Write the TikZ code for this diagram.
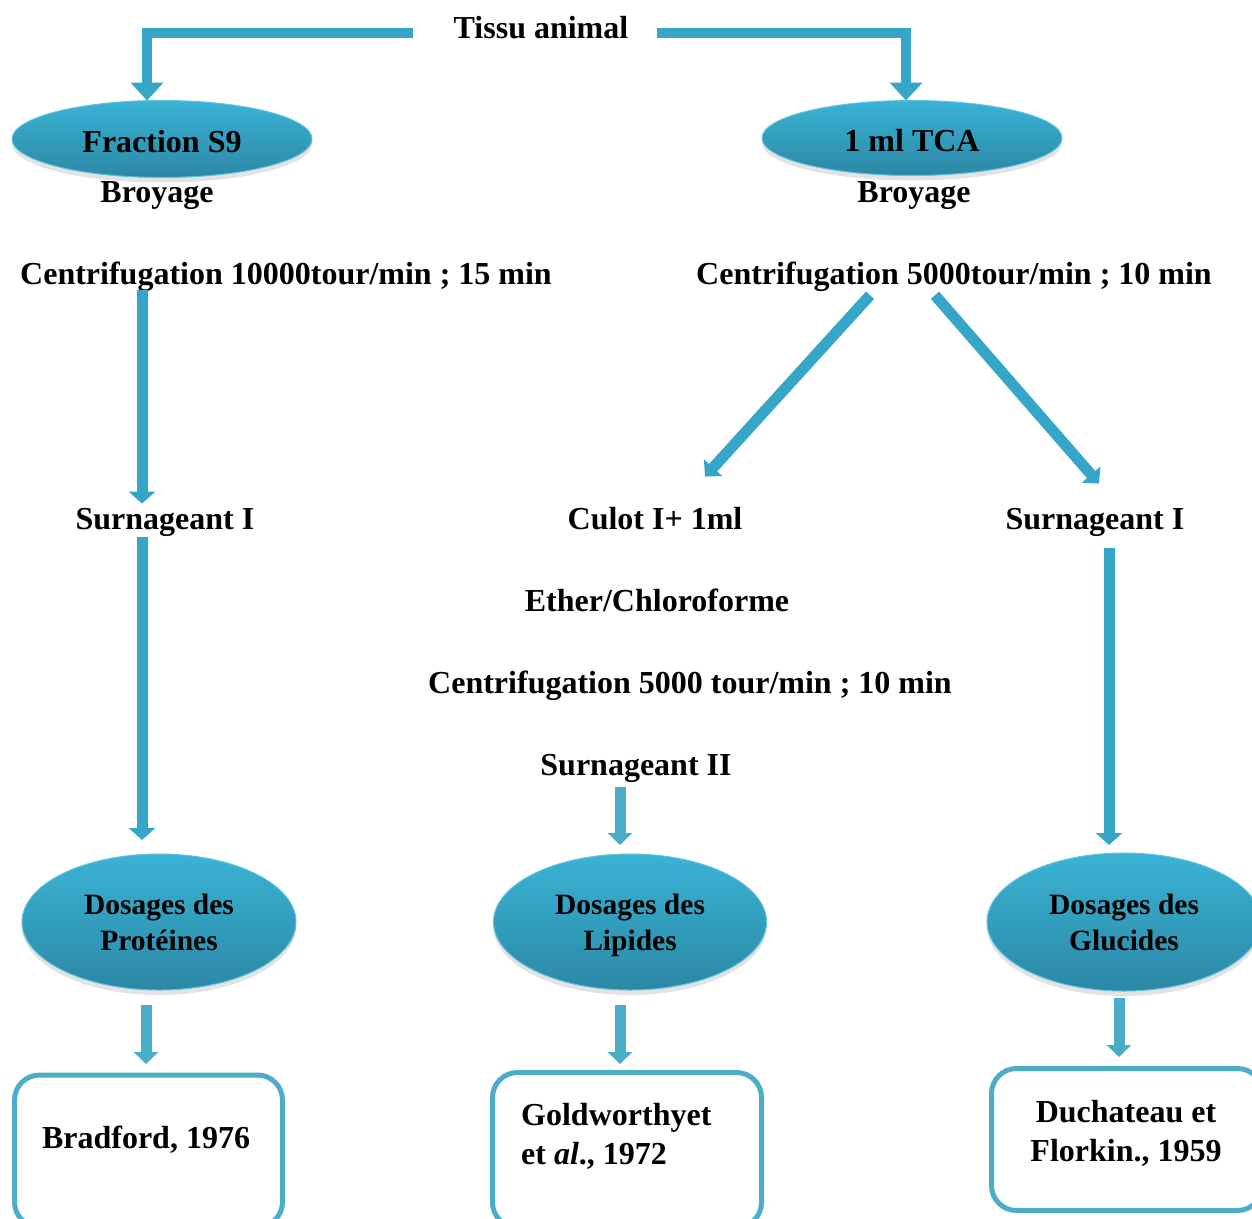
\documentclass[tikz,border=0pt]{standalone}
\usepackage{fontspec}
\setmainfont{Liberation Serif}
\usetikzlibrary{arrows.meta,shapes.geometric,shadows}
\definecolor{cTop}{HTML}{3AB3D5}
\definecolor{cBot}{HTML}{2B88A5}
\definecolor{cArr}{HTML}{35A6C8}
\definecolor{cArrS}{HTML}{4AADC8}
\definecolor{cBox}{HTML}{4BADC8}
\begin{document}
\begin{tikzpicture}[x=1pt,y=-1pt,
  lbl/.style={font=\fontsize{32}{36}\selectfont\bfseries, inner sep=0pt, anchor=base},
  ell/.style={ellipse, top color=cTop, bottom color=cBot, draw=cTop!80!white, line width=1pt,
    outer sep=0pt, inner sep=0pt, text depth=0pt, align=center,
    font=\fontsize{32}{36}\selectfont\bfseries,
    drop shadow={opacity=0.22, shadow xshift=0pt, shadow yshift=-5pt}},
  ellb/.style={ell, font=\fontsize{29.5}{36}\selectfont\bfseries},
  boxr/.style={rectangle, rounded corners=25pt, draw=cBox, line width=5pt, outer sep=0pt, fill=white},
  bar/.style={line width=10pt, draw=cArr, -{Triangle[width=32pt,length=18pt]}},
  tall/.style={line width=11pt, draw=cArr, -{Triangle[width=26pt,length=12pt]}},
  diag/.style={line width=11pt, draw=cArr, -{Triangle[width=24pt,length=12pt]}},
  short/.style={line width=11pt, draw=cArrS, -{Triangle[width=24pt,length=12pt]}},
]
\useasboundingbox (0,0) rectangle (1252,1218);
\begin{scope}
\clip (0,0) rectangle (1252,1218);

% title
\node[lbl] (tissu) at (541,38) {Tissu animal};

% top ellipses
\node[ell, text height=27pt, minimum width=300pt, minimum height=77pt] (s9) at (162,139) {Fraction S9};
\node[ell, text height=27pt, minimum width=300pt, minimum height=75pt] (tca) at (912,138) {1 ml TCA};

\node[lbl] (broyL) at (157,202) {Broyage};
\node[lbl] (broyR) at (914,202) {Broyage};

\node[lbl] (cenL) at (286,284) {Centrifugation 10000tour/min ; 15 min};
\node[lbl] (cenR) at (954,284) {Centrifugation 5000tour/min ; 10 min};

\node[lbl] (surnL) at (165,529) {Surnageant I};
\node[lbl] (culot) at (655,529) {Culot I+ 1ml};
\node[lbl] (surnR) at (1095,529) {Surnageant I};

\node[lbl] (ether) at (657,611) {Ether/Chloroforme};
\node[lbl] (cen2) at (690,693) {Centrifugation 5000 tour/min ; 10 min};
\node[lbl] (surn2) at (636,775) {Surnageant II};

% bottom ellipses
\node[ellb, minimum width=274pt, minimum height=136pt] (prot) at (159,922) {Dosages des\\Protéines};
\node[ellb, minimum width=273pt, minimum height=136pt] (lip) at (630,922) {Dosages des\\Lipides};
\node[ellb, minimum width=274pt, minimum height=138pt] (gluc) at (1124,922) {Dosages des\\Glucides};

% boxes
\node[boxr, minimum width=268pt, minimum height=152pt] (brad) at (148.5,1151) {};
\node[boxr, minimum width=269pt, minimum height=155pt] (gold) at (627,1150) {};
\node[boxr, minimum width=271pt, minimum height=142pt] (duch) at (1127,1139.5) {};

\node[lbl] (bradt) at (146,1148) {Bradford, 1976};
\node[lbl, anchor=base west] (gold1) at (521,1125) {Goldworthyet};
\node[lbl, anchor=base west] (gold2) at (521,1164) {et \textit{al}., 1972};
\node[lbl] (duch1) at (1126,1122) {Duchateau et};
\node[lbl] (duch2) at (1126,1161) {Florkin., 1959};

% connectors
\coordinate (tL) at (413,33);
\coordinate (tR) at (657,33);
\draw[bar, line join=miter] (tL) -| ([xshift=-15pt]s9.north);
\draw[bar, line join=miter] (tR) -| ([xshift=-6pt]tca.north);

\draw[tall] ([xshift=-144pt,yshift=1pt]cenL.south) -- ([xshift=-23pt,yshift=4pt]surnL.north);
\draw[tall] ([xshift=-23pt,yshift=-1pt]surnL.south) -- ([xshift=-17pt,yshift=14pt]prot.north);

\draw[diag] ([xshift=-84pt,yshift=-4pt]cenR.south) -- ([xshift=50pt,yshift=30pt]culot.north);
\draw[diag] ([xshift=-19pt,yshift=-4pt]cenR.south) -- ([xshift=4pt,yshift=24pt]surnR.north);

\draw[tall] ([xshift=14pt,yshift=-12pt]surnR.south) -- ([xshift=-15pt,yshift=8pt]gluc.north);
\draw[short] ([xshift=-16pt,yshift=-5pt]surn2.south) -- ([xshift=-10pt,yshift=9pt]lip.north);

\draw[short] ([xshift=-13pt,yshift=-15pt]prot.south) -- ([xshift=-2.5pt,yshift=11pt]brad.north);
\draw[short] ([xshift=-10pt,yshift=-15pt]lip.south) -- ([xshift=-7pt,yshift=8.5pt]gold.north);
\draw[short] ([xshift=-5pt,yshift=-7pt]gluc.south) -- ([xshift=-8pt,yshift=11.5pt]duch.north);
\end{scope}
\end{tikzpicture}
\end{document}
